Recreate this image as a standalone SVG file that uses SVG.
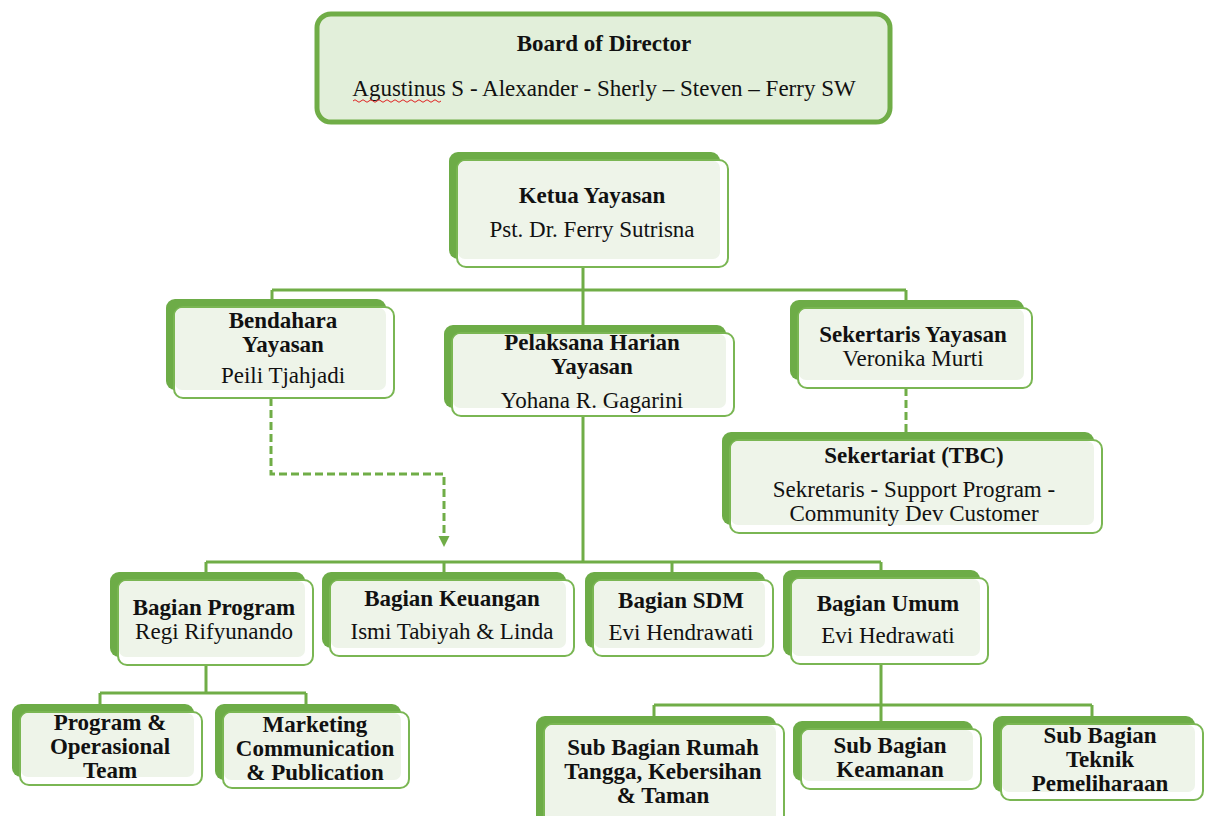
<svg xmlns="http://www.w3.org/2000/svg" width="1206" height="816" viewBox="0 0 1206 816">
<defs>
<style>
.back{fill:#6DAC47}
.front{fill:#FFFFFF;stroke:#7AB653;stroke-width:2}
.fill{fill:#EEF4E9}
.t{font-family:"Liberation Serif","Times New Roman",serif;font-size:23px;fill:#111;text-anchor:middle}
.b{font-weight:bold}
.c{fill:none;stroke:#70AD47;stroke-width:3}
.d{fill:none;stroke:#70AD47;stroke-width:3;stroke-dasharray:8 4}
</style>
</defs>
<rect width="1206" height="816" fill="#FFFFFF"/>

<g id="connectors">
<path class="c" d="M583 267 V290 M272 290 H906 M272 290 V300 M583 290 V326 M906 290 V301"/>
<path class="c" d="M583 416 V562 M206 562 H881 M206 562 V573 M444 562 V573 M672 562 V573 M881 562 V571"/>
<path class="c" d="M206 665 V693 M100 693 H306 M100 693 V705 M306 693 V705"/>
<path class="c" d="M881 664 V705 M654 705 H1092 M654 705 V717 M881 705 V722 M1092 705 V717"/>
<path class="d" d="M271 398 V474 H444 V536"/>
<path d="M438.5 536 L449.5 536 L444 547 Z" fill="#70AD47"/>
<path class="d" d="M906 388 V432"/>
</g>

<g id="board">
<rect x="317" y="14" width="573" height="108" rx="14" fill="#E2EFDA" stroke="#70AD47" stroke-width="5"/>
<text class="t b" x="604" y="51">Board of Director</text>
<text class="t" x="604" y="96">Agustinus S - Alexander - Sherly – Steven – Ferry SW</text>
<path d="M353 101 q2 -2.5 4 0 t4 0 t4 0 t4 0 t4 0 t4 0 t4 0 t4 0 t4 0 t4 0 t4 0 t4 0 t4 0 t4 0 t4 0 t4 0 t4 0 t4 0 t4 0 t4 0 t4 0 t4 0" fill="none" stroke="#E02020" stroke-width="1"/>
</g>

<g id="ketua">
<rect class="back" x="449" y="152" width="271" height="107" rx="9"/>
<rect class="front" x="457" y="160" width="271" height="107" rx="9"/>
<rect class="fill" x="458" y="161" width="262" height="98" rx="7"/>
<text class="t b" x="592" y="203">Ketua Yayasan</text>
<text class="t" x="592" y="237">Pst. Dr. Ferry Sutrisna</text>
</g>

<g id="bendahara">
<rect class="back" x="166" y="299" width="220" height="91" rx="9"/>
<rect class="front" x="174" y="307" width="220" height="91" rx="9"/>
<rect class="fill" x="175" y="308" width="211" height="82" rx="7"/>
<text class="t b" x="283" y="328">Bendahara</text>
<text class="t b" x="283" y="352">Yayasan</text>
<text class="t" x="283" y="383">Peili Tjahjadi</text>
</g>

<g id="pelaksana">
<rect class="back" x="444" y="325" width="282" height="83" rx="9"/>
<rect class="front" x="452" y="333" width="282" height="83" rx="9"/>
<rect class="fill" x="453" y="334" width="273" height="74" rx="7"/>
<text class="t b" x="592" y="350">Pelaksana Harian</text>
<text class="t b" x="592" y="374">Yayasan</text>
<text class="t" x="592" y="408">Yohana R. Gagarini</text>
</g>

<g id="sekertaris">
<rect class="back" x="790" y="300" width="234" height="80" rx="9"/>
<rect class="front" x="798" y="308" width="234" height="80" rx="9"/>
<rect class="fill" x="799" y="309" width="225" height="71" rx="7"/>
<text class="t b" x="913" y="342">Sekertaris Yayasan</text>
<text class="t" x="913" y="366">Veronika Murti</text>
</g>

<g id="sekertariat">
<rect class="back" x="722" y="432" width="372" height="93" rx="9"/>
<rect class="front" x="730" y="440" width="372" height="93" rx="9"/>
<rect class="fill" x="731" y="441" width="363" height="84" rx="7"/>
<text class="t b" x="914" y="463">Sekertariat (TBC)</text>
<text class="t" x="914" y="497">Sekretaris - Support Program -</text>
<text class="t" x="914" y="521">Community Dev Customer</text>
</g>

<g id="bagian-program">
<rect class="back" x="110" y="572" width="195" height="85" rx="9"/>
<rect class="front" x="118" y="580" width="195" height="85" rx="9"/>
<rect class="fill" x="119" y="581" width="186" height="76" rx="7"/>
<text class="t b" x="214" y="615">Bagian Program</text>
<text class="t" x="214" y="639">Regi Rifyunando</text>
</g>

<g id="bagian-keuangan">
<rect class="back" x="322" y="572" width="244" height="76" rx="9"/>
<rect class="front" x="330" y="580" width="244" height="76" rx="9"/>
<rect class="fill" x="331" y="581" width="235" height="67" rx="7"/>
<text class="t b" x="452" y="606">Bagian Keuangan</text>
<text class="t" x="452" y="639">Ismi Tabiyah &amp; Linda</text>
</g>

<g id="bagian-sdm">
<rect class="back" x="585" y="572" width="180" height="76" rx="9"/>
<rect class="front" x="593" y="580" width="180" height="76" rx="9"/>
<rect class="fill" x="594" y="581" width="171" height="67" rx="7"/>
<text class="t b" x="681" y="608">Bagian SDM</text>
<text class="t" x="681" y="640">Evi Hendrawati</text>
</g>

<g id="bagian-umum">
<rect class="back" x="783" y="570" width="197" height="86" rx="9"/>
<rect class="front" x="791" y="578" width="197" height="86" rx="9"/>
<rect class="fill" x="792" y="579" width="188" height="77" rx="7"/>
<text class="t b" x="888" y="611">Bagian Umum</text>
<text class="t" x="888" y="643">Evi Hedrawati</text>
</g>

<g id="program-operasional">
<rect class="back" x="12" y="704" width="182" height="73" rx="9"/>
<rect class="front" x="20" y="712" width="182" height="73" rx="9"/>
<rect class="fill" x="21" y="713" width="173" height="64" rx="7"/>
<text class="t b" x="110" y="730">Program &amp;</text>
<text class="t b" x="110" y="754">Operasional</text>
<text class="t b" x="110" y="778">Team</text>
</g>

<g id="marketing">
<rect class="back" x="215" y="704" width="186" height="76" rx="9"/>
<rect class="front" x="223" y="712" width="186" height="76" rx="9"/>
<rect class="fill" x="224" y="713" width="177" height="67" rx="7"/>
<text class="t b" x="315" y="732">Marketing</text>
<text class="t b" x="315" y="756">Communication</text>
<text class="t b" x="315" y="780">&amp; Publication</text>
</g>

<g id="sub-rumah">
<rect class="back" x="536" y="716" width="240" height="110" rx="9"/>
<rect class="front" x="544" y="724" width="240" height="110" rx="9"/>
<rect class="fill" x="545" y="725" width="231" height="101" rx="7"/>
<text class="t b" x="663" y="755">Sub Bagian Rumah</text>
<text class="t b" x="663" y="779">Tangga, Kebersihan</text>
<text class="t b" x="663" y="803">&amp; Taman</text>
</g>

<g id="sub-keamanan">
<rect class="back" x="793" y="721" width="180" height="60" rx="9"/>
<rect class="front" x="801" y="729" width="180" height="60" rx="9"/>
<rect class="fill" x="802" y="730" width="171" height="51" rx="7"/>
<text class="t b" x="890" y="753">Sub Bagian</text>
<text class="t b" x="890" y="777">Keamanan</text>
</g>

<g id="sub-teknik">
<rect class="back" x="993" y="716" width="202" height="76" rx="9"/>
<rect class="front" x="1001" y="724" width="202" height="76" rx="9"/>
<rect class="fill" x="1002" y="725" width="193" height="67" rx="7"/>
<text class="t b" x="1100" y="743">Sub Bagian</text>
<text class="t b" x="1100" y="767">Teknik</text>
<text class="t b" x="1100" y="791">Pemeliharaan</text>
</g>
</svg>
